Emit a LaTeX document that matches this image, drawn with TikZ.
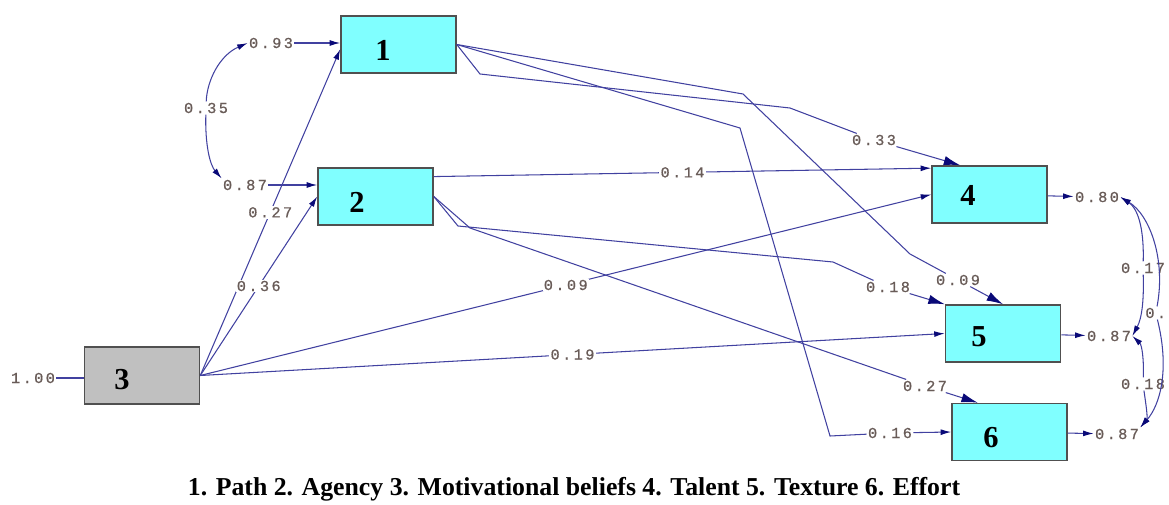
\documentclass[tikz,border=0pt]{standalone}
\usepackage{fontspec}
\setmainfont{Liberation Serif}
\newfontfamily\coeffont[LetterSpace=16,FakeBold=0.6]{Liberation Mono}
\usepackage{tikz}
\usetikzlibrary{arrows.meta}

\definecolor{boxcyan}{RGB}{128,255,255}
\definecolor{boxgray}{RGB}{192,192,192}
\definecolor{rimgray}{RGB}{80,80,80}
\definecolor{edgeblue}{RGB}{65,65,160}
\definecolor{tipblue}{RGB}{10,10,120}
\definecolor{coefgray}{RGB}{105,92,88}

\tikzset{
  cbox/.style={draw=rimgray, line width=1.3pt, fill=boxcyan, minimum width=3.45cm, minimum height=1.71cm, inner sep=0pt},
  gbox/.style={cbox, fill=boxgray},
  boxnum/.style={font=\fontsize{26}{26}\selectfont\bfseries},
  coef/.style={font=\coeffont\fontsize{13}{14}\selectfont, text=coefgray, fill=white, inner sep=1pt},
  lnk/.style={draw=edgeblue, line width=0.9pt},
  sarr/.style={lnk, -{Latex[length=9pt,width=5pt,color=tipblue]}},
  barr/.style={lnk, -{Latex[length=14pt,width=8pt,color=tipblue]}},
}

\begin{document}
\begin{tikzpicture}[x=0.03cm, y=-0.03cm]
\useasboundingbox (0,0) rectangle (1169,505);
\clip (0,0) rectangle (1169,505);
\node[cbox] (b1) at (398.5,44.5) {};
\node[cbox] (b2) at (375.5,196.5) {};
\node[gbox] (b3) at (142,375.5) {};
\node[cbox] (b4) at (989.5,194.5) {};
\node[cbox] (b5) at (1003,333.5) {};
\node[cbox] (b6) at (1009.5,432) {};
\node[boxnum] (n1) at (383,50) {1};
\node[boxnum] (n2) at (357,202) {2};
\node[boxnum] (n3) at (122,380) {3};
\node[boxnum] (n4) at (968,195) {4};
\node[boxnum] (n5) at (979,337) {5};
\node[boxnum] (n6) at (991,438) {6};

\node[coef] (e1) at (271,43) {0.93};
\node[coef] (e2) at (245,185) {0.87};
\node[coef] (e3) at (33,378) {1.00};
\node[coef] (e4) at (1097,197) {0.80};
\node[coef] (e5) at (1109,336) {0.87};
\node[coef] (e6) at (1117,434) {0.87};
\draw[sarr] (e1) -- (e1 -| b1.west);
\draw[sarr] (e2) -- (e2 -| b2.west);
\draw[lnk] (e3) -- (e3 -| b3.west);
\draw[sarr] (b4) -- (e4);
\draw[sarr] (b5) -- (e5);
\draw[sarr] (b6) -- (e6);

\node[coef] (c12) at (206,108) {0.35};
\draw[sarr] (c12) .. controls (207,80) and (220,55) .. (e1.west);
\draw[sarr] (c12) .. controls (205,145) and (210,165) .. (e2.north west);
\node[coef] (c45) at (1143,268) {0.17};
\node[coef] (c56) at (1143,384) {0.18};
\node[coef, anchor=west] (c46) at (1144,313) {0.};
\draw[sarr] (c45) .. controls (1144,235) and (1140,210) .. (e4.east);
\draw[sarr] (c45) .. controls (1144,300) and (1142,318) .. (e5.east);
\draw[sarr] (c56) .. controls (1144,360) and (1142,345) .. (e5.east);
\draw[sarr] (c56) .. controls (1146,405) and (1148,418) .. (e6.north east);
\draw[sarr] (c46) .. controls (1166,260) and (1150,215) .. (e4.east);
\draw[sarr] (c46) .. controls (1170,370) and (1160,405) .. (e6.north east);

\draw[sarr] (b3.east) -- node[coef] (p31) {0.27} ([yshift=-4pt]b1.west);
\draw[sarr] (b3.east) -- node[coef] (p32) {0.36} (b2.west);
\draw[sarr] (b3.east) -- node[coef] (p34) {0.09} (b4.west);
\draw[sarr] (b3.east) -- node[coef] (p35) {0.19} (b5.west);
\draw[sarr] ([yshift=17pt]b2.east) -- node[coef] (p24) {0.14} ([yshift=22.5pt]b4.west);

\node[coef] (q25) at (888,287) {0.18};
\draw[lnk] (b2.east) -- (458,226) -- (833,262) -- (q25);
\draw[barr] (q25) -- (b5.north west);
\node[coef] (q26) at (925,386) {0.27};
\draw[lnk] (b2.east) -- (470,228) -- (q26);
\draw[barr] (q26) -- ([xshift=-27pt]b6.north);

\node[coef] (q14) at (874,140) {0.33};
\draw[lnk] (b1.east) -- (480,74) -- (790,108) -- (q14);
\draw[barr] (q14) -- ([xshift=-25pt]b4.north);
\node[coef] (q15) at (958,280) {0.09};
\draw[lnk] (b1.east) -- (743,94) -- (910,254) -- (q15);
\draw[barr] (q15) -- (b5.north);
\node[coef] (q16) at (890,433) {0.16};
\draw[lnk] (b1.east) -- (740,128) -- (830,436) -- (q16);
\draw[sarr] (q16) -- (b6.west);

\node[font=\fontsize{22}{24}\selectfont\bfseries] (cap) at (574,489) {1. Path 2. Agency 3. Motivational beliefs 4. Talent 5. Texture 6. Effort};
\end{tikzpicture}
\end{document}
